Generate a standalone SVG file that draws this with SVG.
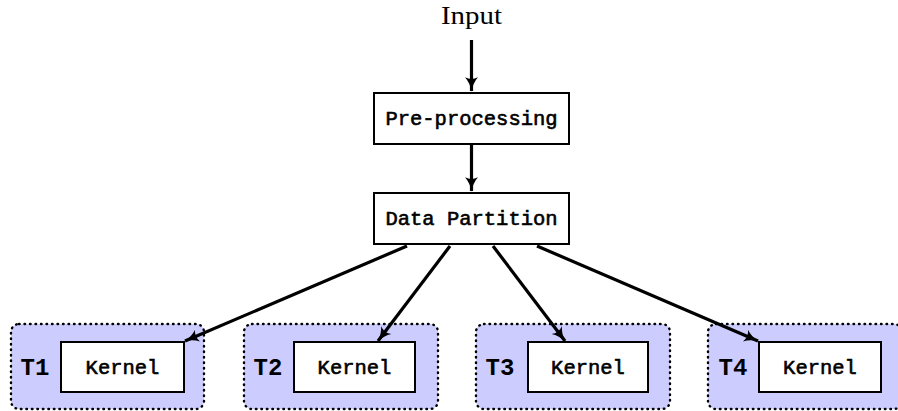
<svg xmlns="http://www.w3.org/2000/svg" width="898" height="411" viewBox="0 0 898 411">
<style>
.box{fill:#fff;stroke:#000;stroke-width:2}
.grp{fill:#ccccff;stroke:#000;stroke-width:2.4;stroke-dasharray:0.6 4.9;stroke-linecap:round}
.tt{font-family:"Liberation Mono",monospace;font-size:20.5px;text-anchor:middle;fill:#000;stroke:#000;stroke-width:0.6}
.lbl{font-family:"Liberation Mono",monospace;font-weight:bold;font-size:24px;text-anchor:middle;fill:#000}
.edge{fill:none;stroke:#000;stroke-width:3.2;marker-end:url(#ah)}
</style>
<defs>
<marker id="ah" viewBox="0 0 10 10" refX="9.5" refY="5" markerWidth="4.5" markerHeight="4.5" markerUnits="strokeWidth" orient="auto">
<path d="M0,0.5 Q4,4 10,5 Q4,6 0,9.5 Q2.5,5 0,0.5 Z" fill="#000"/>
</marker>
</defs>
<g id="input"><text x="471.5" y="24" font-family="'Liberation Serif',serif" font-size="25" text-anchor="middle" textLength="61" lengthAdjust="spacingAndGlyphs">Input</text></g>
<g id="preprocessing"><rect class="box" x="374" y="93" width="195" height="51"/><text class="tt" x="471.5" y="125">Pre-processing</text></g>
<g id="datapartition"><rect class="box" x="374" y="193" width="195" height="51"/><text class="tt" x="471.5" y="225">Data Partition</text></g>
<g id="t1"><rect class="grp" x="11" y="324" width="193" height="85" rx="8"/><text class="lbl" x="35" y="375">T1</text><rect class="box" x="61" y="342" width="123" height="50"/><text class="tt" x="122.5" y="374">Kernel</text></g>
<g id="t2"><rect class="grp" x="244" y="324" width="194" height="85" rx="8"/><text class="lbl" x="268" y="375">T2</text><rect class="box" x="294" y="342" width="121" height="50"/><text class="tt" x="354.5" y="374">Kernel</text></g>
<g id="t3"><rect class="grp" x="476" y="324" width="194" height="85" rx="8"/><text class="lbl" x="500" y="375">T3</text><rect class="box" x="528" y="342" width="120" height="50"/><text class="tt" x="588" y="374">Kernel</text></g>
<g id="t4"><rect class="grp" x="708" y="324" width="194" height="85" rx="8"/><text class="lbl" x="733" y="375">T4</text><rect class="box" x="759" y="342" width="122" height="50"/><text class="tt" x="820" y="374">Kernel</text></g>
<g id="connectors">
<line class="edge" x1="471.5" y1="40" x2="471.5" y2="91"/>
<line class="edge" x1="471.5" y1="144" x2="471.5" y2="191"/>
<line class="edge" x1="407" y1="246" x2="185" y2="341"/>
<line class="edge" x1="450" y1="246" x2="378" y2="341"/>
<line class="edge" x1="493" y1="246" x2="565" y2="341"/>
<line class="edge" x1="537" y1="246" x2="758" y2="341"/>
</g>
</svg>
